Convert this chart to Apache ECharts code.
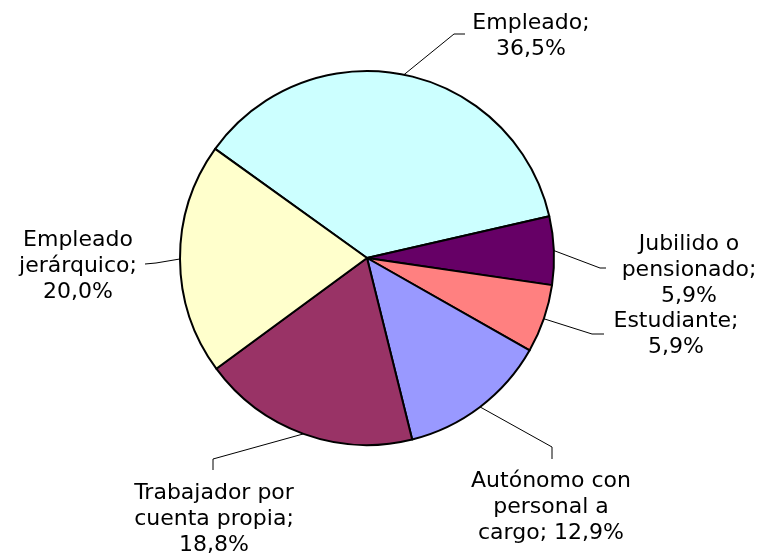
<!DOCTYPE html>
<html>
<head>
<meta charset="utf-8">
<script src="https://cdn.jsdelivr.net/npm/echarts@6/dist/echarts.min.js"></script>
<style>
html,body{margin:0;padding:0;background:#fff;}
#main{width:765px;height:557px;}
</style>
</head>
<body>
<div id="main"></div>
<script>
var categories = ['Empleado', 'Jubilido o\npensionado', 'Estudiante', 'Autónomo con\npersonal a\ncargo', 'Trabajador por\ncuenta propia', 'Empleado\njerárquico'];
var values = [36.5, 5.9, 5.9, 12.9, 18.8, 20.0];
var colors = ['#CCFFFF', '#660066', '#FF8080', '#9999FF', '#993366', '#FFFFCC'];
var breakBeforeValue = [true, true, true, false, true, true];
// label block centres and leader line elbows
var labelPos = [[531, 36], [689, 270], [676, 334], [551, 507], [214, 519], [78, 266]];
var leaderTail = [
    [[454, 34], [465, 34]],
    [[600, 268], [606, 268]],
    [[592, 334], [604, 334]],
    [[552, 447], [552, 459]],
    [[213, 459], [213, 470]],
    [[156, 263], [145, 264]]
];

var dom = document.getElementById('main');
var myChart = echarts.init(dom);
var data = [];
for (var i = 0; i < categories.length; i++) {
    data.push({name: categories[i], value: values[i], itemStyle: {color: colors[i]}});
}
myChart.setOption({
    animation: false,
    series: [{
        type: 'pie',
        center: [367, 258],
        radius: 187,
        startAngle: 144.3,
        clockwise: true,
        data: data,
        itemStyle: {borderColor: '#000', borderWidth: 2},
        emphasis: {disabled: true},
        label: {
            show: true,
            position: 'outside',
            fontFamily: 'DejaVu Sans',
            fontSize: 22,
            lineHeight: 26,
            color: '#000',
            align: 'center',
            formatter: function (p) {
                var v = values[p.dataIndex].toFixed(1).replace('.', ',');
                return p.name + ';' + (breakBeforeValue[p.dataIndex] ? '\n' : ' ') + v + '%';
            }
        },
        labelLine: {show: true, length: 20, length2: 8, lineStyle: {color: '#000', width: 1}},
        labelLayout: function (params) {
            var i = params.dataIndex;
            var p = labelPos[i];
            var start = params.labelLinePoints ? params.labelLinePoints[0] : null;
            var out = {x: p[0], y: p[1], align: 'center', verticalAlign: 'middle'};
            if (start) {
                out.labelLinePoints = [start, leaderTail[i][0], leaderTail[i][1]];
            }
            return out;
        }
    }]
});
</script>
</body>
</html>
